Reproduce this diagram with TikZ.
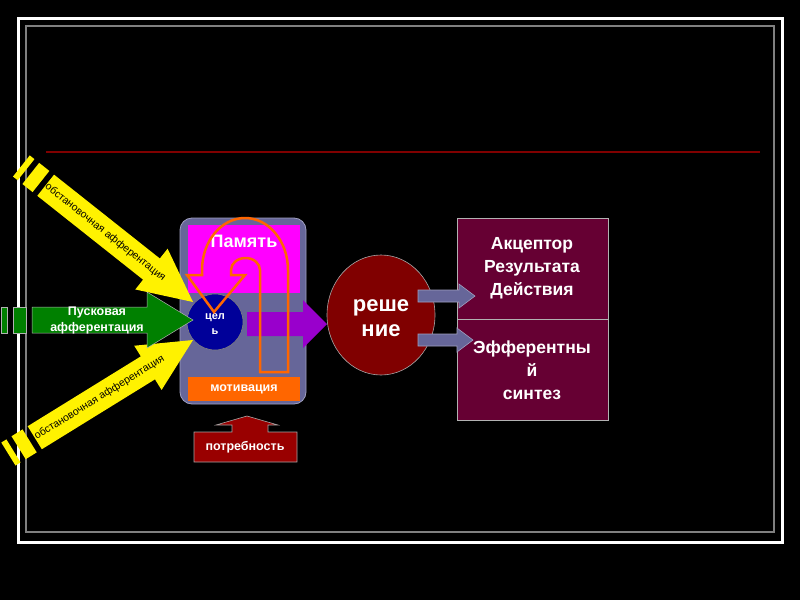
\documentclass[tikz,border=0pt]{standalone}
\usepackage{fontspec}
\setmainfont{Liberation Sans}
\usetikzlibrary{shapes.geometric}
\definecolor{slate}{HTML}{666699}
\definecolor{slateedge}{HTML}{A0A0C0}
\definecolor{mag}{HTML}{FF00FF}
\definecolor{orng}{HTML}{FF6600}
\definecolor{navy2}{HTML}{000099}
\definecolor{purp}{HTML}{9900CC}
\definecolor{maroon2}{HTML}{800000}
\definecolor{wine}{HTML}{660033}
\definecolor{redbox}{HTML}{990000}
\definecolor{grn}{HTML}{008000}
\newcommand\striparrow[8]{%
\begin{scope}[shift={(#1,#2)},rotate=#3]
\fill[#8] (0,0) -- (-#7,#6) -- (-#7,#5) -- (-#4,#5) -- (-#4,-#5) -- (-#7,-#5) -- (-#7,-#6) -- cycle;
\fill[#8] (-#4-6,#5) rectangle (-#4-19,-#5);
\fill[#8] (-#4-25,#5) rectangle (-#4-31,-#5);
\end{scope}}
\newcommand\blockarrow[6]{% x1 x2 y shafthalf headhalf headlen
\filldraw[fill=slate,draw=slateedge,line width=0.6pt] (#1,#3-#4) -- (#2-#6,#3-#4) -- (#2-#6,#3-#5) -- (#2,#3) -- (#2-#6,#3+#5) -- (#2-#6,#3+#4) -- (#1,#3+#4) -- cycle;}
\tikzset{
  wtxt/.style={text=white,font=\bfseries,align=center,inner sep=0pt},
}
\begin{document}
\begin{tikzpicture}[x=1pt,y=-1pt]
\fill[black] (0,0) rectangle (800,600);
\useasboundingbox (0,0) rectangle (800,600);
% frame
\draw[white,line width=3pt] (18,18) rectangle (782,542);
\draw[gray,line width=1.5pt] (26,26) rectangle (774,532);
\draw[maroon2,line width=1.5pt] (46,152) -- (760,152);
% grey container
\filldraw[fill=slate,draw=slateedge,line width=0.8pt,rounded corners=12pt] (180,218) rectangle (306,404);
\fill[mag] (188,225) rectangle (300,293);
\node[wtxt,font=\fontsize{18}{20}\selectfont\bfseries] (pam) at (244,241) {Память};
\fill[orng] (188,377) rectangle (300,401);
\node[wtxt,font=\fontsize{12.5}{14}\selectfont\bfseries] (mot) at (244,389) {мотивация};
% circle goal
\node[circle,fill=navy2,draw=gray,line width=0.6pt,minimum size=56pt,inner sep=0pt] (goal) at (215,322) {};
\node[wtxt,font=\fontsize{11}{15}\selectfont\bfseries] (goaltxt) at (215,324) {цел\\ь};
% purple arrow
\fill[purp] (247,312) -- (303,312) -- (303,300) -- (327,324) -- (303,348) -- (303,336) -- (247,336) -- cycle;
% orange loop
\draw[orng,line width=2.5pt,line join=miter] (260,372) -- (288,372) -- (288,270)
  arc[start angle=0,end angle=180,x radius=43pt,y radius=52pt] -- (202,275) -- (187,275) -- (214,312) -- (245,275) -- (231,275) -- (231,270)
  arc[start angle=180,end angle=0,x radius=14.5pt,y radius=12pt] -- cycle;
% yellow arrows
\striparrow{193}{302}{-38.4}{188}{13.5}{26}{53}{yellow}
\striparrow{193}{340}{31.7}{186}{13.5}{26}{53}{yellow}
\begin{scope}[shift={(193,302)},rotate=-38.4]
\node[transform shape,font=\fontsize{10.5}{12}\selectfont,text=black,inner sep=0pt] (ob1) at (-112,0) {обстановочная афферентация};
\end{scope}
\begin{scope}[shift={(193,340)},rotate=31.7]
\node[transform shape,font=\fontsize{10.5}{12}\selectfont,text=black,inner sep=0pt] (ob2) at (-110,0) {обстановочная афферентация};
\end{scope}
% green arrow
\filldraw[fill=grn,draw=gray!60,line width=0.5pt] (193,320) -- (147,292) -- (147,307) -- (32,307) -- (32,333) -- (147,333) -- (147,348) -- cycle;
\filldraw[fill=grn,draw=gray!60,line width=0.5pt] (13,307) rectangle (26,333);
\filldraw[fill=grn,draw=gray!60,line width=0.5pt] (1,307) rectangle (7,333);
\node[wtxt,font=\fontsize{12.5}{16}\selectfont\bfseries] (pusk) at (97,320) {Пусковая\\афферентация};
% decision
\node[ellipse,fill=maroon2,draw=gray!70,line width=0.6pt,minimum width=108pt,minimum height=120pt,inner sep=0pt] (resh) at (381,315) {};
\node[wtxt,font=\fontsize{22}{25}\selectfont\bfseries] (reshtxt) at (381,318) {реше\\ние};
% right boxes
\node[draw=gray!60,fill=wine,line width=0.8pt,minimum width=151pt,minimum height=101pt,inner sep=0pt] (acc) at (532.5,268.5) {};
\node[draw=gray!60,fill=wine,line width=0.8pt,minimum width=151pt,minimum height=101pt,inner sep=0pt] (eff) at (532.5,369.5) {};
\node[wtxt,font=\fontsize{17.5}{23}\selectfont\bfseries] (acctxt) at (532,268) {Акцептор\\Результата\\Действия};
\node[wtxt,font=\fontsize{17.5}{23}\selectfont\bfseries] (efftxt) at (532,370) {Эфферентны\\й\\синтез};
% grey arrows
\blockarrow{418}{475}{296}{6}{12}{16}
\blockarrow{418}{473}{340}{6}{12}{16}
% need callout
\filldraw[fill=redbox,draw=gray!70,line width=0.6pt] (194,462) -- (297,462) -- (297,432) -- (268,432) -- (268,425) -- (278,425) -- (247,416) -- (216,425) -- (232,425) -- (232,432) -- (194,432) -- cycle;
\node[wtxt,font=\fontsize{12.5}{14}\selectfont\bfseries] (need) at (245,447) {потребность};
\end{tikzpicture}
\end{document}
